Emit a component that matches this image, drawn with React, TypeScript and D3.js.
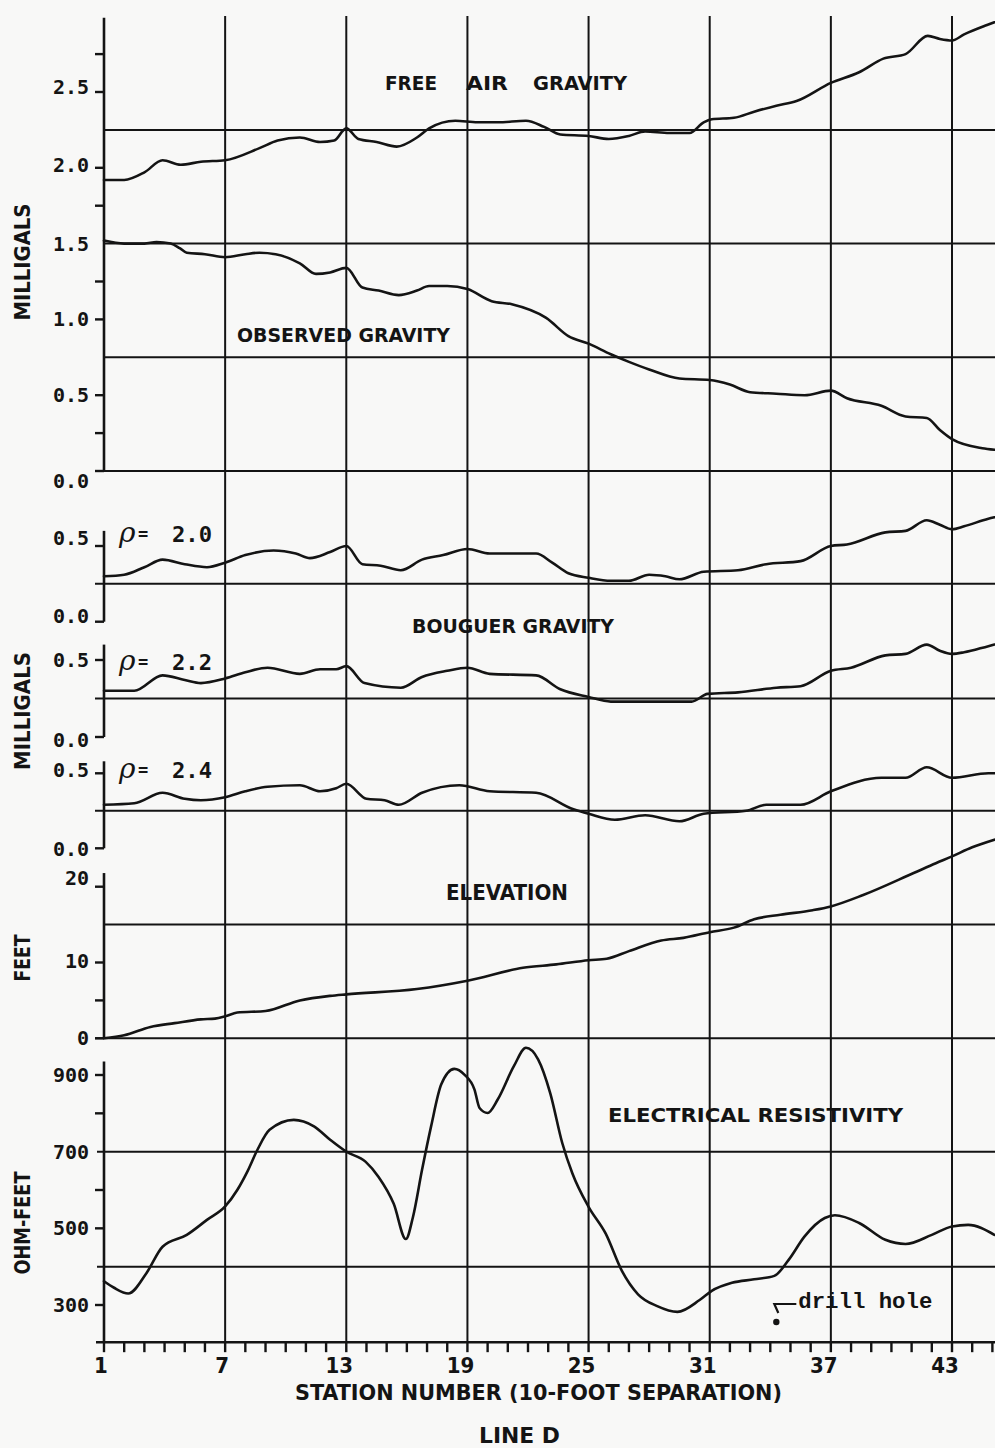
import React from "react";
import * as d3 from "d3";

// ---------------- DATA ----------------
const stationMinorTicks = d3.range(1, 46);
const stationLabels = [1, 7, 13, 19, 25, 31, 37, 43];

const freeAirStations = [1, 2, 3, 3.9, 4.8, 5.8, 7, 8.7, 9.6, 10.7, 11.7, 12.4, 13, 13.6, 14.5, 15.5, 16.5, 17.1, 18.4, 19.5, 20.5, 21.9, 22.8, 23.6, 25, 26, 27, 27.8, 29, 30, 30.7, 31.1, 32.2, 33.2, 34.3, 35.3, 37, 38.4, 39.6, 40.7, 41.8, 42.4, 43, 43.6, 44.7, 45.1];
const freeAirValues = [1.92, 1.92, 1.97, 2.05, 2.02, 2.04, 2.05, 2.13, 2.18, 2.2, 2.17, 2.18, 2.26, 2.19, 2.17, 2.14, 2.2, 2.26, 2.31, 2.3, 2.3, 2.31, 2.27, 2.22, 2.21, 2.19, 2.21, 2.24, 2.23, 2.23, 2.3, 2.32, 2.33, 2.37, 2.41, 2.44, 2.56, 2.63, 2.72, 2.75, 2.87, 2.85, 2.84, 2.88, 2.94, 2.96];

const observedStations = [1, 2, 3, 3.6, 4.3, 4.75, 5.1, 6, 7, 8, 8.7, 9.5, 10.7, 11.5, 12.2, 13, 13.8, 14.6, 15.6, 16.5, 17.1, 18, 19, 20.2, 21.2, 22.9, 24, 25, 26.1, 27, 28, 29.5, 31, 32, 33, 34.3, 35.7, 37, 37.8, 39.5, 40.7, 41.75, 42.4, 43, 44.5, 45.1];
const observedValues = [1.52, 1.5, 1.5, 1.51, 1.5, 1.47, 1.44, 1.43, 1.41, 1.43, 1.44, 1.43, 1.37, 1.3, 1.31, 1.34, 1.21, 1.19, 1.16, 1.19, 1.22, 1.22, 1.2, 1.12, 1.1, 1.01, 0.89, 0.84, 0.77, 0.72, 0.67, 0.61, 0.6, 0.57, 0.52, 0.51, 0.5, 0.53, 0.48, 0.43, 0.36, 0.35, 0.27, 0.21, 0.15, 0.14];

const rho20Stations = [1, 2, 3, 3.9, 5, 6.1, 7, 8, 9.4, 10.5, 11.2, 12.2, 13, 13.8, 14.7, 15.7, 16.75, 17.8, 19, 20.1, 22.4, 23.2, 24, 25, 26.1, 27, 28, 28.8, 29.5, 30.7, 32.4, 33.8, 35.5, 37, 37.8, 39.7, 40.7, 41.75, 42.4, 43, 43.6, 44.8, 45.1];
const rho20Values = [0.3, 0.31, 0.36, 0.41, 0.38, 0.36, 0.39, 0.44, 0.47, 0.45, 0.42, 0.46, 0.5, 0.38, 0.37, 0.34, 0.41, 0.44, 0.48, 0.45, 0.45, 0.39, 0.32, 0.29, 0.27, 0.27, 0.31, 0.3, 0.28, 0.33, 0.34, 0.38, 0.4, 0.5, 0.51, 0.59, 0.6, 0.67, 0.64, 0.61, 0.63, 0.68, 0.69];

const rho22Stations = [1, 2.5, 3.9, 5, 5.8, 7, 8, 9.1, 10.7, 11.7, 12.5, 13, 13.9, 15.7, 16.75, 18, 19, 20.1, 22.4, 23.6, 25, 26.1, 28.2, 30.1, 30.9, 32.4, 34.3, 35.5, 37, 38, 39.7, 40.7, 41.75, 42.4, 43, 43.6, 44.8, 45.1];
const rho22Values = [0.3, 0.3, 0.4, 0.37, 0.35, 0.38, 0.42, 0.45, 0.41, 0.44, 0.44, 0.46, 0.35, 0.32, 0.39, 0.43, 0.45, 0.41, 0.4, 0.31, 0.26, 0.23, 0.23, 0.23, 0.28, 0.29, 0.32, 0.33, 0.43, 0.45, 0.53, 0.54, 0.6, 0.56, 0.54, 0.55, 0.59, 0.6];

const rho24Stations = [1, 2.5, 3.9, 5, 5.8, 7, 8, 9.1, 10.7, 11.7, 12.5, 13, 14, 14.9, 15.6, 16.75, 18.6, 20.1, 22.4, 24.25, 25, 26.3, 27.8, 29.5, 30.7, 32.8, 33.8, 35.5, 37, 39.5, 40.7, 41.75, 43, 44.8, 45.1];
const rho24Values = [0.29, 0.3, 0.37, 0.33, 0.32, 0.34, 0.38, 0.41, 0.42, 0.38, 0.4, 0.43, 0.33, 0.32, 0.29, 0.37, 0.42, 0.38, 0.37, 0.26, 0.23, 0.19, 0.22, 0.18, 0.23, 0.25, 0.29, 0.29, 0.38, 0.47, 0.47, 0.54, 0.47, 0.5, 0.5];

const elevationStations = [1, 2, 3.3, 4.5, 5.8, 6.5, 7, 7.6, 9, 10.7, 12.2, 13, 16.5, 19, 21.75, 23.4, 25, 25.9, 27, 28.6, 29.7, 31, 32.2, 33.2, 34.5, 36.1, 37, 38.6, 41.1, 42.2, 43, 44, 45.1];
const elevationValues = [0, 0.4, 1.5, 2.0, 2.5, 2.6, 2.9, 3.4, 3.6, 5.0, 5.6, 5.8, 6.5, 7.6, 9.3, 9.75, 10.3, 10.5, 11.5, 12.9, 13.25, 14.0, 14.6, 15.7, 16.3, 16.9, 17.4, 18.9, 21.8, 23.1, 24.0, 25.2, 26.2];

const resistivityStations = [1, 1.5, 2.2, 3.1, 3.9, 5.1, 6.1, 7, 7.6, 8.1, 8.6, 9.2, 10.4, 11.4, 12.2, 13, 13.95, 14.6, 15.35, 15.95, 16.3, 16.75, 17.2, 17.7, 18.35, 18.85, 19.35, 19.6, 20, 20.5, 21.3, 21.9, 22.5, 23.1, 23.7, 24.2, 25, 25.85, 26.65, 27.45, 28.4, 29.4, 30.5, 31.1, 32.1, 33.2, 34.2, 34.9, 35.7, 36.7, 37.2, 38.4, 39.7, 40.7, 42, 43, 43.8, 45.1];
const resistivityValues = [362, 345, 330, 383, 452, 483, 522, 557, 600, 648, 705, 757, 783, 766, 731, 700, 674, 634, 564, 472, 529, 652, 766, 875, 916, 901, 862, 814, 801, 836, 923, 971, 941, 853, 722, 643, 556, 486, 389, 328, 297, 282, 313, 337, 358, 367, 376, 417, 479, 527, 534, 514, 470, 459, 483, 505, 509, 483];

const gravityTickLabels = ["0.0", "0.5", "1.0", "1.5", "2.0", "2.5"];
const bouguerTickLabels = ["0.0", "0.5"];
const elevationTickLabels = ["0", "10", "20"];
const resistivityTickLabels = ["300", "500", "700", "900"];

const drillHoleStation = 34.2;

// ---------------- STYLE ----------------
const INK = "#141414";
const BG = "#f8f8f7";
const CONDENSED = "'DejaVu Sans Condensed', 'Liberation Sans Narrow', 'DejaVu Sans', sans-serif";
const MONO = "'DejaVu Sans Mono', 'Liberation Mono', monospace";
const COURIER = "'Liberation Mono', 'DejaVu Sans Mono', monospace";

function zip(a: number[], b: number[]): [number, number][] {
  return a.map((s, i) => [s, b[i]]);
}

export default function App() {
  const W = 995;
  const H = 1448;
  const x = d3.scaleLinear().domain([1, 43]).range([104, 952]);
  const xLeft = x(1);
  const xRight = W;

  type Panel = {
    y: d3.ScaleLinear<number, number>;
    top: number;
    bottom: number;
    ticks: number[];
    grids: { v: number; from: number }[];
    labels: { text: string; v: number; dy: number }[];
  };

  const y1 = d3.scaleLinear().domain([0, 2.5]).range([471, 92]);
  const y2 = d3.scaleLinear().domain([0, 0.5]).range([621.7, 546]);
  const y3 = d3.scaleLinear().domain([0, 0.5]).range([737, 660]);
  const y4 = d3.scaleLinear().domain([0, 0.5]).range([848.3, 773.3]);
  const y5 = d3.scaleLinear().domain([0, 20]).range([1038.3, 886.7]);
  const y6 = d3.scaleLinear().domain([300, 900]).range([1305, 1075]);

  const panels: Panel[] = [
    {
      y: y1, top: 2.99, bottom: 0,
      ticks: [0, 0.25, 0.5, 1.0, 1.25, 1.75, 2.0, 2.5, 2.75],
      grids: [{ v: 0, from: xLeft }, { v: 0.75, from: xLeft }, { v: 1.5, from: xLeft }, { v: 2.25, from: xLeft }],
      labels: gravityTickLabels.map((t) => ({ text: t, v: +t, dy: t === "0.0" ? 10 : t === "2.5" ? -5 : t === "2.0" ? -3 : 0 })),
    },
    {
      y: y2, top: 0.6, bottom: 0,
      ticks: [0, 0.5],
      grids: [{ v: 0.25, from: 95 }],
      labels: bouguerTickLabels.map((t) => ({ text: t, v: +t, dy: t === "0.5" ? -8 : -6 })),
    },
    {
      y: y3, top: 0.6, bottom: 0,
      ticks: [0, 0.5],
      grids: [{ v: 0.25, from: 95 }],
      labels: bouguerTickLabels.map((t) => ({ text: t, v: +t, dy: t === "0.5" ? 0 : 3 })),
    },
    {
      y: y4, top: 0.58, bottom: 0,
      ticks: [0, 0.5],
      grids: [{ v: 0.25, from: 95 }],
      labels: bouguerTickLabels.map((t) => ({ text: t, v: +t, dy: t === "0.5" ? -3 : 1 })),
    },
    {
      y: y5, top: 21.8, bottom: 0,
      ticks: [0, 5, 10, 20],
      grids: [{ v: 0, from: 95 }, { v: 15, from: xLeft }],
      labels: elevationTickLabels.map((t) => ({ text: t, v: +t, dy: t === "20" ? -9 : t === "10" ? -2 : 0 })),
    },
    {
      y: y6, top: 935, bottom: 203,
      ticks: [300, 500, 600, 800, 900],
      grids: [{ v: 400, from: 97 }, { v: 700, from: 97 }],
      labels: resistivityTickLabels.map((t) => ({ text: t, v: +t, dy: 0 })),
    },
  ];

  const series: { st: number[]; vals: number[]; y: d3.ScaleLinear<number, number> }[] = [
    { st: freeAirStations, vals: freeAirValues, y: y1 },
    { st: observedStations, vals: observedValues, y: y1 },
    { st: rho20Stations, vals: rho20Values, y: y2 },
    { st: rho22Stations, vals: rho22Values, y: y3 },
    { st: rho24Stations, vals: rho24Values, y: y4 },
    { st: elevationStations, vals: elevationValues, y: y5 },
    { st: resistivityStations, vals: resistivityValues, y: y6 },
  ];

  const axisY = y6(203);
  const gridTop = 16;

  const dx = x(drillHoleStation);

  return (
    <div style={{ position: "absolute", left: 0, top: 0 }}>
      <svg width={W} height={H} viewBox={`0 0 ${W} ${H}`} style={{ display: "block", background: BG }}>
        <rect x={0} y={0} width={W} height={H} fill={BG} />

        {/* vertical grid lines */}
        {stationLabels.slice(1).map((s) => (
          <line key={"vg" + s} x1={x(s)} x2={x(s)} y1={gridTop} y2={axisY} stroke={INK} strokeWidth={2} />
        ))}

        {/* panels: axes, ticks, grids, labels */}
        {panels.map((p, i) => (
          <g key={"p" + i}>
            <line x1={xLeft} x2={xLeft} y1={p.y(p.top)} y2={p.y(p.bottom)} stroke={INK} strokeWidth={2.6} />
            {p.ticks.map((t) => (
              <line key={"t" + t} x1={95} x2={xLeft} y1={p.y(t)} y2={p.y(t)} stroke={INK} strokeWidth={2.4} />
            ))}
            {p.grids.map((g) => (
              <line key={"g" + g.v} x1={g.from} x2={xRight} y1={p.y(g.v)} y2={p.y(g.v)} stroke={INK} strokeWidth={2} />
            ))}
            {p.labels.map((l) => (
              <text
                key={"l" + l.text}
                x={89}
                y={p.y(l.v) + l.dy}
                textAnchor="end"
                dominantBaseline="central"
                fontFamily={MONO}
                fontWeight="bold"
                fontSize={20}
                fill={INK}
              >
                {l.text}
              </text>
            ))}
          </g>
        ))}

        {/* x axis */}
        <line x1={xLeft - 8} x2={xRight} y1={axisY} y2={axisY} stroke={INK} strokeWidth={2.6} />
        {stationMinorTicks.map((s) => (
          <line key={"xt" + s} x1={x(s)} x2={x(s)} y1={axisY} y2={axisY + 10} stroke={INK} strokeWidth={2.4} />
        ))}
        {stationLabels.map((s) => (
          <text
            key={"xl" + s}
            x={x(s) - (s < 10 ? 3 : 7)}
            y={1373}
            textAnchor="middle"
            fontFamily={CONDENSED}
            fontWeight="bold"
            fontSize={22}
            fill={INK}
          >
            {s}
          </text>
        ))}
        <text x={295} y={1400} fontFamily={CONDENSED} fontWeight="bold" fontSize={21} textLength={487} lengthAdjust="spacingAndGlyphs" fill={INK}>
          STATION NUMBER (10-FOOT SEPARATION)
        </text>
        <text x={479} y={1443} fontFamily={CONDENSED} fontWeight="bold" fontSize={21} textLength={81} lengthAdjust="spacingAndGlyphs" fill={INK}>
          LINE D
        </text>

        {/* curves */}
        {series.map((s, i) => {
          const line = d3
            .line<[number, number]>()
            .x((d) => x(d[0]))
            .y((d) => s.y(d[1]))
            .curve(d3.curveMonotoneX);
          return (
            <path key={"s" + i} d={line(zip(s.st, s.vals)) || ""} fill="none" stroke={INK} strokeWidth={2.6} strokeLinejoin="round" strokeLinecap="round" />
          );
        })}

        {/* y axis titles */}
        {[
          { t: "MILLIGALS", c: 262, len: 117 },
          { t: "MILLIGALS", c: 711, len: 118 },
          { t: "FEET", c: 958, len: 47 },
          { t: "OHM-FEET", c: 1223, len: 103 },
        ].map((a, i) => (
          <text
            key={"yt" + i}
            transform={`translate(30, ${a.c}) rotate(-90)`}
            textAnchor="middle"
            fontFamily={CONDENSED}
            fontWeight="bold"
            fontSize={22}
            textLength={a.len}
            lengthAdjust="spacingAndGlyphs"
            fill={INK}
          >
            {a.t}
          </text>
        ))}

        {/* panel titles */}
        <g fontFamily={CONDENSED} fontWeight="bold" fontSize={20} fill={INK}>
          <text x={385} y={90} textLength={52} lengthAdjust="spacingAndGlyphs">FREE</text>
          <text x={466} y={90} textLength={42} lengthAdjust="spacingAndGlyphs">AIR</text>
          <text x={533} y={90} textLength={94} lengthAdjust="spacingAndGlyphs">GRAVITY</text>
          <text x={237} y={342} textLength={213} lengthAdjust="spacingAndGlyphs" fontSize={19}>OBSERVED GRAVITY</text>
          <text x={412} y={633} textLength={202} lengthAdjust="spacingAndGlyphs">BOUGUER GRAVITY</text>
          <text x={446} y={900} textLength={122} lengthAdjust="spacingAndGlyphs" fontSize={21}>ELEVATION</text>
          <text x={608} y={1122} textLength={295} lengthAdjust="spacingAndGlyphs">ELECTRICAL RESISTIVITY</text>
        </g>

        {/* density labels */}
        {[
          { v: "2.0", b: 542 },
          { v: "2.2", b: 670 },
          { v: "2.4", b: 778 },
        ].map((r) => (
          <g key={"rho" + r.v} fill={INK}>
            <text x={119} y={r.b} fontFamily="'DejaVu Serif', serif" fontStyle="italic" fontSize={28}>
              ρ
            </text>
            <text x={138} y={r.b - 2} fontFamily={MONO} fontWeight="bold" fontSize={17}>
              =
            </text>
            <text x={172} y={r.b} fontFamily={MONO} fontWeight="bold" fontSize={21} textLength={40} lengthAdjust="spacingAndGlyphs">
              {r.v}
            </text>
          </g>
        ))}

        {/* drill hole marker */}
        <path d={`M${dx + 22},1304 L${dx},1304 L${dx + 4},1313`} fill="none" stroke={INK} strokeWidth={2.2} />
        <circle cx={dx + 2} cy={1322} r={3.2} fill={INK} />
        <text x={dx + 24} y={1308} fontFamily={COURIER} fontWeight="bold" fontSize={22} textLength={134} lengthAdjust="spacingAndGlyphs" fill={INK}>
          drill hole
        </text>
      </svg>
    </div>
  );
}
